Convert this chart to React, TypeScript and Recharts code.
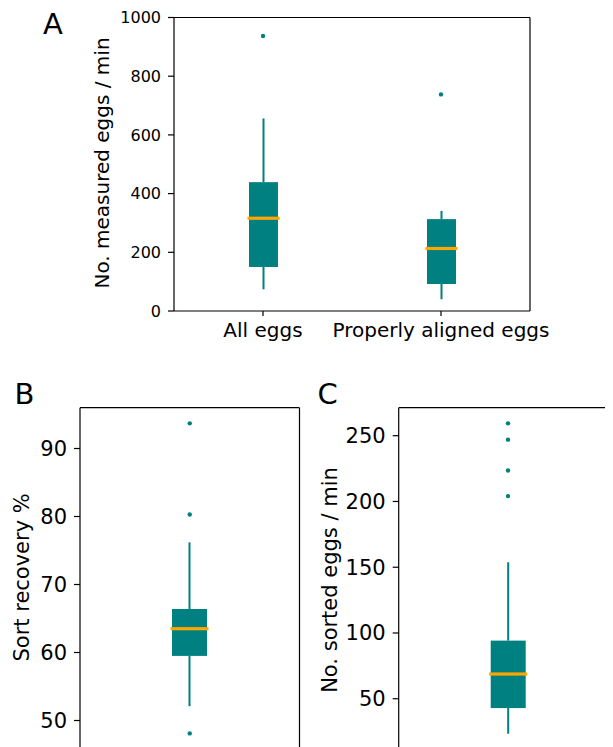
import React from 'react';
import { ComposedChart, Bar, Scatter, XAxis, YAxis, ReferenceLine } from 'recharts';

const TEAL = '#008080';
const ORANGE = '#FFA500';
const FONT = '"DejaVu Sans", sans-serif';

// Panel A
const aCategories = ['All eggs', 'Properly aligned eggs'];
const aWhiskerLow = [74, 40];
const aQ1 = [150, 92];
const aMedian = [316, 213];
const aQ3 = [439, 313];
const aWhiskerHigh = [656, 341];
const aOutliers = [[937], [738]];
const aTicks = [0, 200, 400, 600, 800, 1000];

// Panel B
const bCategories = ['Sort recovery'];
const bWhiskerLow = [52.1];
const bQ1 = [59.5];
const bMedian = [63.5];
const bQ3 = [66.4];
const bWhiskerHigh = [76.2];
const bOutliers = [[93.7, 80.3, 48.1]];
const bTicks = [50, 60, 70, 80, 90];

// Panel C
const cCategories = ['Sorted eggs'];
const cWhiskerLow = [23.4];
const cQ1 = [42.9];
const cMedian = [68.8];
const cQ3 = [94.2];
const cWhiskerHigh = [153.8];
const cOutliers = [[259.4, 247, 223.6, 204.1]];
const cTicks = [50, 100, 150, 200, 250];

function buildRows(cats: string[], lo: number[], q1: number[], med: number[], q3: number[], hi: number[]) {
  return cats.map((name, i) => ({
    name,
    base: lo[i],
    lowW: q1[i] - lo[i],
    boxLow: med[i] - q1[i],
    boxHigh: q3[i] - med[i],
    highW: hi[i] - q3[i],
  }));
}

function buildOutliers(outs: number[][]) {
  return outs.flatMap((vals, i) => vals.map((v) => ({ x: i + 1, y: v })));
}

const Whisker = (p: any) => (
  <rect x={p.x + p.width / 2 - 1} y={p.y} width={2} height={Math.max(0, p.height)} fill={TEAL} />
);
const BoxPart = (p: any) => (
  <rect x={p.x} y={p.y} width={p.width} height={Math.max(0, p.height)} fill={TEAL} />
);
const BoxTop = (p: any) => (
  <g>
    <rect x={p.x} y={p.y} width={p.width} height={Math.max(0, p.height)} fill={TEAL} />
    <rect x={p.x - 1.5} y={p.y + p.height - 1.6} width={p.width + 3} height={3.2} fill={ORANGE} />
  </g>
);
const Empty = () => <g />;
const Dot = (p: any) => <circle cx={p.cx} cy={p.cy} r={2.2} fill={TEAL} />;

const AXIS_LINE = { stroke: '#000', strokeWidth: 1.2 };

type PanelProps = {
  width: number;
  height: number;
  margin: { top: number; right: number; bottom: number; left: number };
  rows: any[];
  outliers: { x: number; y: number }[];
  n: number;
  domain: [number, number];
  ticks: number[];
  yWidth: number;
  tickFont: number;
  barSize: number;
  showX: boolean;
  showRight: boolean;
  xHeight?: number;
  xTickFont?: number;
};

function BoxPanel(props: PanelProps) {
  const { width, height, margin, rows, outliers, n, domain, ticks, yWidth, tickFont, barSize, showX, showRight, xHeight, xTickFont } = props;
  return (
    <ComposedChart width={width} height={height} data={rows} margin={margin}>
      {showX ? (
        <XAxis
          dataKey="name"
          height={xHeight}
          axisLine={AXIS_LINE}
          tickLine={AXIS_LINE}
          tickSize={5}
          tickMargin={7}
          interval={0}
          tick={{ fill: '#000', fontSize: xTickFont, fontFamily: FONT }}
        />
      ) : (
        <XAxis dataKey="name" hide />
      )}
      <XAxis xAxisId="num" dataKey="x" type="number" domain={[0.5, n + 0.5]} allowDataOverflow hide />
      <YAxis
        type="number"
        domain={domain}
        ticks={ticks}
        allowDataOverflow
        width={yWidth}
        axisLine={AXIS_LINE}
        tickLine={AXIS_LINE}
        tickSize={6}
        tickMargin={7}
        interval={0}
        tick={{ fill: '#000', fontSize: tickFont, fontFamily: FONT }}
      />
      <Bar dataKey="base" stackId="box" barSize={barSize} shape={Empty} isAnimationActive={false} />
      <Bar dataKey="lowW" stackId="box" barSize={barSize} shape={Whisker} isAnimationActive={false} />
      <Bar dataKey="boxLow" stackId="box" barSize={barSize} shape={BoxPart} isAnimationActive={false} />
      <Bar dataKey="boxHigh" stackId="box" barSize={barSize} shape={BoxTop} isAnimationActive={false} />
      <Bar dataKey="highW" stackId="box" barSize={barSize} shape={Whisker} isAnimationActive={false} />
      <Scatter data={outliers} dataKey="y" xAxisId="num" shape={Dot} isAnimationActive={false} />
      <ReferenceLine y={domain[1]} xAxisId="num" stroke="#000" strokeWidth={1.2} />
      {showRight ? <ReferenceLine x={n + 0.5} xAxisId="num" stroke="#000" strokeWidth={1.2} /> : null}
    </ComposedChart>
  );
}

export default function App() {
  const aRows = buildRows(aCategories, aWhiskerLow, aQ1, aMedian, aQ3, aWhiskerHigh);
  const bRows = buildRows(bCategories, bWhiskerLow, bQ1, bMedian, bQ3, bWhiskerHigh);
  const cRows = buildRows(cCategories, cWhiskerLow, cQ1, cMedian, cQ3, cWhiskerHigh);

  return (
    <div style={{ position: 'relative', width: 605, height: 739, overflow: 'hidden', background: '#fff' }}>
      <div style={{ position: 'absolute', left: 0, top: 0 }}>
        <BoxPanel
          width={605}
          height={360}
          margin={{ top: 9.5, right: 83, bottom: 17, left: 0 }}
          rows={aRows}
          outliers={buildOutliers(aOutliers)}
          n={aCategories.length}
          domain={[0, 1000]}
          ticks={aTicks}
          yWidth={166}
          tickFont={16}
          barSize={29}
          showX
          showRight
          xHeight={40}
          xTickFont={20}
        />
      </div>
      <div style={{ position: 'absolute', left: 0, top: 380 }}>
        <BoxPanel
          width={300}
          height={390}
          margin={{ top: 19.7, right: 8.5, bottom: 16.7, left: 0 }}
          rows={bRows}
          outliers={buildOutliers(bOutliers)}
          n={bCategories.length}
          domain={[44, 96]}
          ticks={bTicks}
          yWidth={72}
          tickFont={21}
          barSize={35}
          showX={false}
          showRight
        />
      </div>
      <div style={{ position: 'absolute', left: 300, top: 380 }}>
        <BoxPanel
          width={320}
          height={400}
          margin={{ top: 19.7, right: 10.7, bottom: 23.5, left: 0 }}
          rows={cRows}
          outliers={buildOutliers(cOutliers)}
          n={cCategories.length}
          domain={[0, 271.3]}
          ticks={cTicks}
          yWidth={90.7}
          tickFont={21}
          barSize={35}
          showX={false}
          showRight={false}
        />
      </div>
      <svg width={605} height={739} style={{ position: 'absolute', left: 0, top: 0, pointerEvents: 'none' }}>
        <g fontFamily={FONT} fill="#000">
          <text x={35} y={26.3} fontSize={29}>A</text>
          <text x={6.4} y={396} fontSize={29}>B</text>
          <text x={309.5} y={396} fontSize={29}>C</text>
          <text x={100.8} y={155} fontSize={20} textAnchor="middle" transform="rotate(-90 100.8 155)">
            No. measured eggs / min
          </text>
          <text x={21.3} y={569.4} fontSize={21} textAnchor="middle" transform="rotate(-90 21.3 569.4)">
            Sort recovery %
          </text>
          <text x={328.8} y={572} fontSize={21} textAnchor="middle" transform="rotate(-90 328.8 572)">
            No. sorted eggs / min
          </text>
        </g>
      </svg>
    </div>
  );
}
